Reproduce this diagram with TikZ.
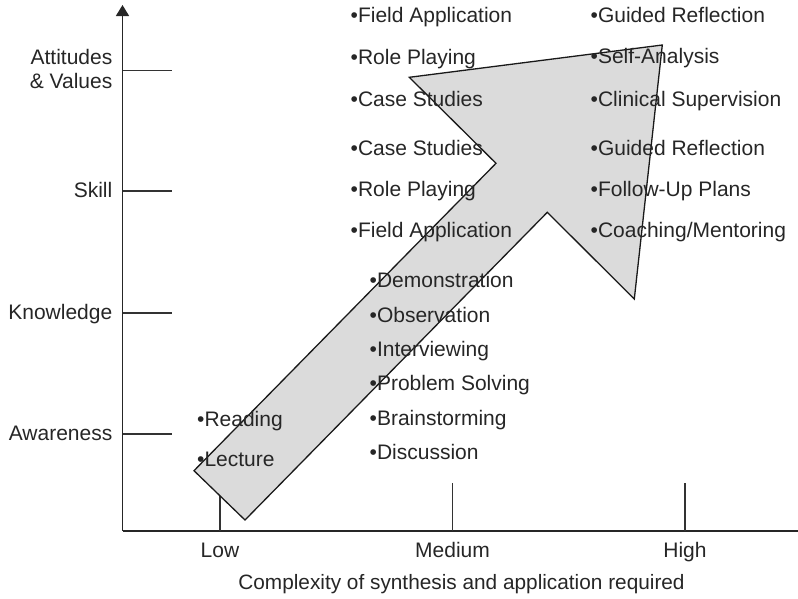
\documentclass[tikz,border=0pt]{standalone}
\usepackage{fontspec}
\setmainfont{Liberation Sans}
\usetikzlibrary{arrows.meta}
\begin{document}
\begin{tikzpicture}[x=1pt,y=-1pt,
  txt/.style={inner sep=0pt, font=\fontsize{21}{24}\selectfont, text=black!85},
  item/.style={txt, anchor=base west},
  level/.style={txt, anchor=base east},
  grade/.style={txt, anchor=base},
  axis/.style={draw=black!85, line width=1.4pt},
  tickline/.style={draw=black!80, line width=1.3pt},
  bigarrow/.style={draw=black!90, line width=1.3pt, fill=black!14, line join=miter},
]
\useasboundingbox (0,0) rectangle (798,598);

% axes
\coordinate (O) at (122.5,531);
\coordinate (ytop) at (122.5,5);
\coordinate (xend) at (798,531);
\draw[axis, -{Triangle[width=13pt,length=11pt]}] (O) -- (ytop);
\draw[axis] (O) -- (xend);

% level ticks on the vertical axis
\foreach \yy/\nm in {70.5/att, 191/ski, 313/kno, 434/awa}{
  \coordinate (\nm-a) at (122.5,\yy);
  \coordinate (\nm-b) at (172,\yy);
  \draw[tickline] (\nm-a) -- (\nm-b);
}
% complexity ticks on the horizontal axis
\foreach \xx/\nm in {220/low, 452.7/med, 685/hig}{
  \coordinate (\nm-a) at (\xx,531);
  \coordinate (\nm-b) at (\xx,483);
  \draw[tickline] (\nm-a) -- (\nm-b);
}

% the big diagonal arrow
\draw[bigarrow] (194,470.7) -- (496,163.3) -- (409.3,77.3) -- (662.3,45)
  -- (634.3,299) -- (547.3,212.3) -- (245,520) -- cycle;

% level labels
\node[level] (lAtt1) at (112.5,64) {Attitudes};
\node[level] (lAtt2) at (112.5,88.3) {\& Values};
\node[level] (lSki) at (112.5,197.5) {Skill};
\node[level] (lKno) at (112.5,319.5) {Knowledge};
\node[level] (lAwa) at (112.5,440.7) {Awareness};

% complexity labels
\node[grade] (gLow) at (220,557.3) {Low};
\node[grade] (gMed) at (452.5,557.3) {Medium};
\node[grade] (gHig) at (685,557.3) {High};
\node[grade, font=\fontsize{20.8}{24}\selectfont] (xlab) at (461.5,589) {Complexity of synthesis and application required};

% low complexity
\node[item] (rea) at (197,426.5) {•Reading};
\node[item] (lec) at (197,466.5) {•Lecture};

% medium complexity, awareness and knowledge
\node[item] (dem) at (369.5,287.5) {•Demonstration};
\node[item] (obs) at (369.5,322.5) {•Observation};
\node[item] (int) at (369.5,356.5) {•Interviewing};
\node[item] (pro) at (369.5,390.5) {•Problem Solving};
\node[item] (bra) at (369.5,425) {•Brainstorming};
\node[item] (dis) at (369.5,459.5) {•Discussion};

% medium complexity, attitudes and skill
\node[item] (mFie1) at (350.5,22) {•Field Application};
\node[item] (mRol1) at (350.5,64) {•Role Playing};
\node[item] (mCas1) at (350.5,106) {•Case Studies};
\node[item] (mCas2) at (350.5,155.5) {•Case Studies};
\node[item] (mRol2) at (350.5,196.5) {•Role Playing};
\node[item] (mFie2) at (350.5,237.5) {•Field Application};

% high complexity
\node[item] (hGui1) at (590.5,22.5) {•Guided Reflection};
\node[item] (hSel) at (590.5,63.5) {•Self-Analysis};
\node[item] (hCli) at (590.5,106) {•Clinical Supervision};
\node[item] (hGui2) at (590.5,155.5) {•Guided Reflection};
\node[item] (hFol) at (590.5,196.5) {•Follow-Up Plans};
\node[item] (hCoa) at (590.5,237.5) {•Coaching/Mentoring};
\end{tikzpicture}
\end{document}
